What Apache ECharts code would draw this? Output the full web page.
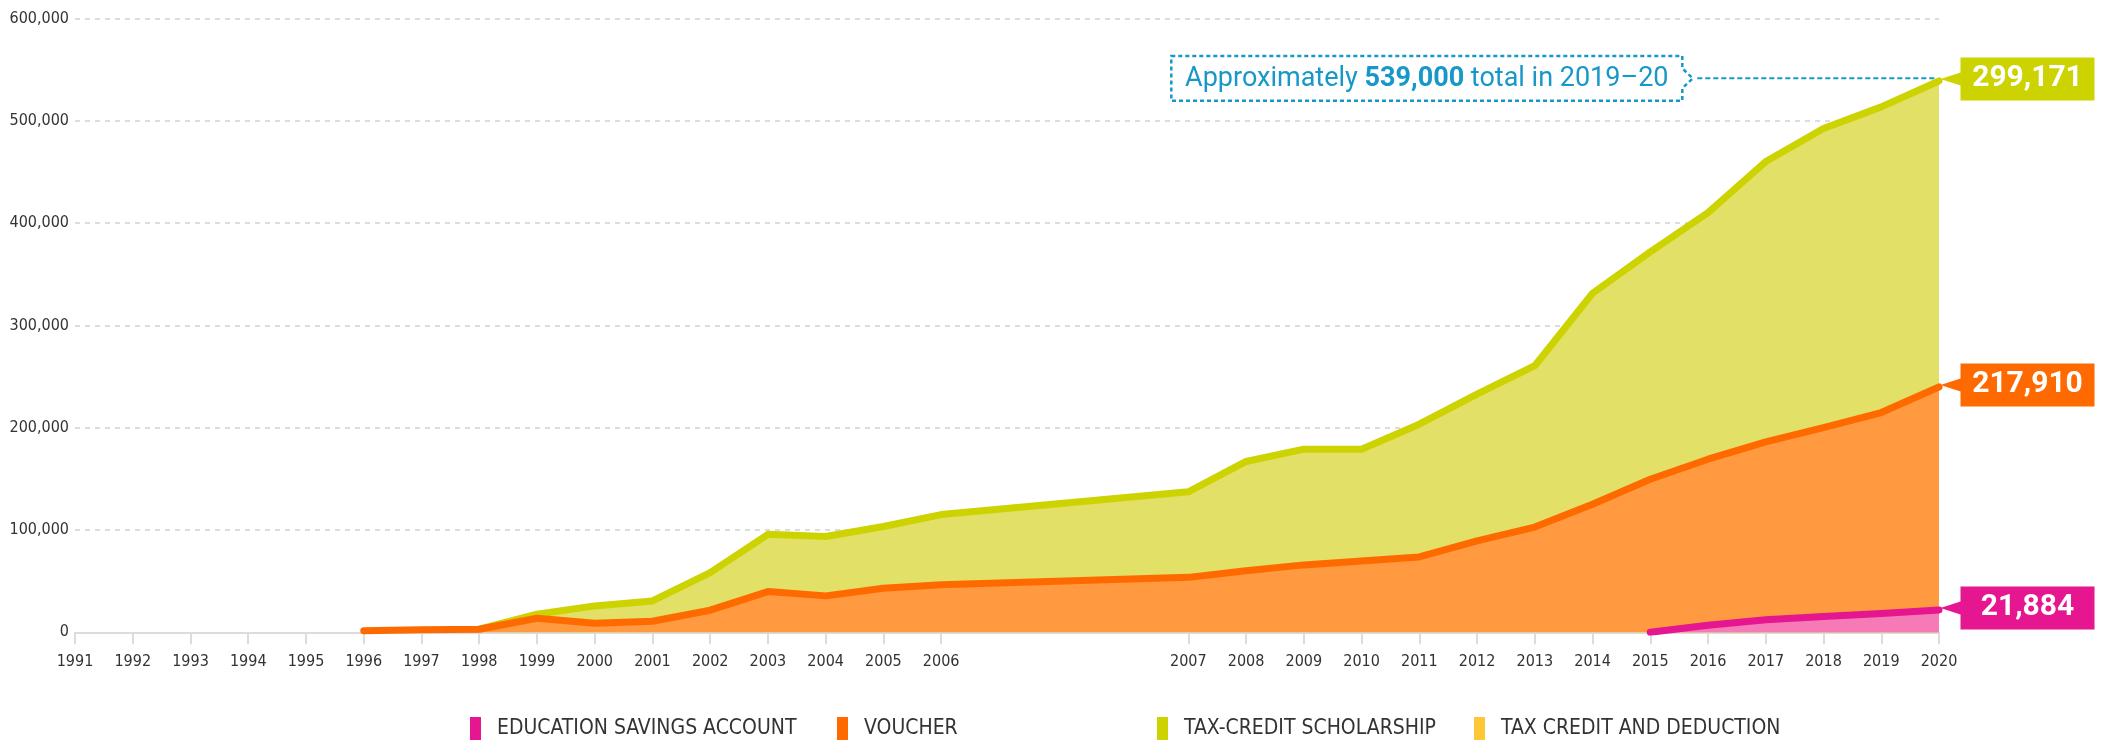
<!DOCTYPE html>
<html>
<head>
<meta charset="utf-8">
<script src="https://cdn.jsdelivr.net/npm/echarts@6/dist/echarts.min.js"></script>
<style>
  html, body { margin: 0; padding: 0; background: #fff; }
  #chart { width: 2111px; height: 740px; }
</style>
</head>
<body>
<div id="chart"></div>
<script>
// school year (spring) on the x axis
const years = [1991, 1992, 1993, 1994, 1995, 1996, 1997, 1998, 1999, 2000,
  2001, 2002, 2003, 2004, 2005, 2006, 2007, 2008, 2009, 2010,
  2011, 2012, 2013, 2014, 2015, 2016, 2017, 2018, 2019, 2020];

// participants (null = program not running yet)
const esa = [null, null, null, null, null, null, null, null, null, null,
  null, null, null, null, null, null, null, null, null, null,
  null, null, null, null, 0, 6900, 12200, 15400, 18300, 21884];
const voucher = [null, null, null, null, null, 1500, 2400, 3000, 13700, 8900,
  10800, 21600, 39800, 35600, 43100, 46400, 53700, 60100, 65900, 69800,
  73700, 89400, 102900, 125200, 149600, 162300, 174000, 184700, 196500, 217910];
const scholarship = [null, null, null, null, null, null, null, 0, 4000, 16900,
  19900, 36800, 56000, 58000, 60300, 68700, 83600, 106900, 113100, 109200,
  129700, 143400, 157700, 206200, 222300, 241100, 274000, 292300, 298800, 299171];
const taxCredit = [];

const seriesNames = ['EDUCATION SAVINGS ACCOUNT', 'VOUCHER', 'TAX-CREDIT SCHOLARSHIP', 'TAX CREDIT AND DEDUCTION'];
const yMax = 600000;
const yStep = 100000;
const totalNote = ['Approximately ', '539,000', ' total in 2019–20'];

// the original axis leaves a wider gap between 2006 and 2007
const BREAK_YEAR = 2006;
const BREAK_EXTRA = 3.28;
const xPos = (yr) => yr - years[0] + (yr > BREAK_YEAR ? BREAK_EXTRA : 0);
const yearAt = {};
years.forEach(y => { yearAt[xPos(y).toFixed(2)] = y; });

// layers are painted on top of each other, so each one is drawn at its running total
const addOn = (arr, below) => arr.map((v, i) => v == null ? null : v + (below[i] || 0));
const esaTop = esa.slice();
const voucherTop = addOn(voucher, esaTop);
const scholarshipTop = addOn(scholarship, voucherTop);

const narrow = "'Liberation Sans Narrow', 'DejaVu Sans Condensed', sans-serif";
const colors = {
  esa: { line: '#e5168f', area: '#f57ab6' },
  voucher: { line: '#ff6a00', area: '#ff9a40' },
  scholarship: { line: '#cdd300', area: '#e2e066' },
  taxCredit: { line: '#ffc735' }
};

const pairs = (arr) => years.map((y, i) => [xPos(y), arr[i]]);
const last = years.length - 1;

// arrow box shape used for the 2020 value labels
const tagPath = 'path://M0,21.5L20,15L20,0L154,0L154,43L20,43L20,28Z';
const endTag = (value, top, color) => ({
  symbol: tagPath,
  symbolSize: [154, 43],
  symbolKeepAspect: false,
  symbolOffset: [78.5, -2],
  silent: true,
  z: 20,
  itemStyle: { color: color },
  label: {
    show: true,
    position: 'inside',
    offset: [10, 0],
    color: '#fff',
    fontFamily: 'Roboto',
    fontWeight: 'bold',
    fontSize: 30,
    formatter: () => value.toLocaleString('en-US')
  },
  data: [{ coord: [xPos(years[last]), top], value: value }]
});

const areaSeries = (name, raw, top, c, z) => ({
  name: name,
  type: 'line',
  data: pairs(top),
  z: z,
  showSymbol: false,
  color: c.line,
  itemStyle: { color: c.line },
  lineStyle: { color: c.line, width: 7, cap: 'round', join: 'round' },
  areaStyle: { color: c.area, opacity: 1 },
  emphasis: { disabled: true },
  markPoint: endTag(raw[last], top[last], c.line)
});

const legendLeft = [470, 837, 1157, 1474];

const chart = echarts.init(document.getElementById('chart'));

chart.setOption({
  animation: false,
  grid: { left: 75, right: 172, top: 18.5, bottom: 107.7, outerBoundsMode: 'none' },
  xAxis: {
    type: 'value',
    min: 0,
    max: xPos(years[last]),
    axisLine: { lineStyle: { color: '#dcdcdc', width: 2 } },
    axisTick: {
      show: true,
      length: 12,
      customValues: years.map(xPos),
      lineStyle: { color: '#dcdcdc', width: 2 }
    },
    axisLabel: {
      customValues: years.map(xPos),
      formatter: (v) => String(yearAt[v.toFixed(2)] || ''),
      margin: 22,
      color: '#333',
      fontFamily: narrow,
      fontSize: 16
    },
    splitLine: { show: false }
  },
  yAxis: {
    type: 'value',
    min: 0,
    max: yMax,
    interval: yStep,
    axisLine: { show: false },
    axisTick: { show: false },
    axisLabel: {
      margin: 6,
      color: '#333',
      fontFamily: narrow,
      fontSize: 16,
      formatter: (v) => v.toLocaleString('en-US')
    },
    splitLine: { lineStyle: { color: '#dcdcdc', width: 2, type: [5, 5] } }
  },
  legend: seriesNames.map((n, i) => ({
    data: [n],
    left: legendLeft[i],
    top: 717,
    padding: 0,
    icon: 'rect',
    itemWidth: 11,
    itemHeight: 23,
    selectedMode: false,
    textStyle: { color: '#333', fontFamily: narrow, fontSize: 21, padding: [0, 0, 0, 11] }
  })),
  series: [
    areaSeries(seriesNames[2], scholarship, scholarshipTop, colors.scholarship, 2),
    areaSeries(seriesNames[1], voucher, voucherTop, colors.voucher, 3),
    areaSeries(seriesNames[0], esa, esaTop, colors.esa, 4),
    {
      name: seriesNames[3],
      type: 'line',
      data: taxCredit,
      color: colors.taxCredit.line,
      itemStyle: { color: colors.taxCredit.line },
      lineStyle: { color: colors.taxCredit.line }
    }
  ]
});

// dotted call-out box pointing at the 2020 total
const tip = chart.convertToPixel({ gridIndex: 0 }, [xPos(years[last]), scholarshipTop[last]]);
const blue = '#1898c8';
const cy = tip[1] - 2.6;
const boxW = 511, boxH = 44.7;
const L = tip[0] - 767.7, T = cy - boxH / 2, R = L + boxW;

chart.setOption({
  graphic: [
    {
      type: 'polygon',
      silent: true,
      shape: {
        points: [[L, T], [R, T], [R, cy - 10], [R + 10.5, cy], [R, cy + 10], [R, T + boxH], [L, T + boxH]]
      },
      style: { fill: 'none', stroke: blue, lineWidth: 2.5, lineDash: [4, 3] }
    },
    {
      type: 'line',
      silent: true,
      shape: { x1: R + 15, y1: cy, x2: tip[0] - 3, y2: cy },
      style: { stroke: blue, lineWidth: 2, lineDash: [5, 3] }
    },
    {
      type: 'text',
      silent: true,
      x: L + boxW / 2,
      y: cy + 0.5,
      style: {
        text: totalNote[0] + '{b|' + totalNote[1] + '}' + totalNote[2],
        align: 'center',
        verticalAlign: 'middle',
        fill: blue,
        fontFamily: 'Roboto',
        fontSize: 27,
        rich: {
          b: { fill: blue, fontFamily: 'Roboto', fontSize: 27, fontWeight: 'bold' }
        }
      }
    }
  ]
});
</script>
</body>
</html>
